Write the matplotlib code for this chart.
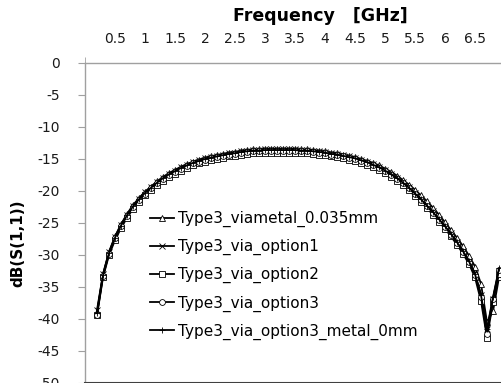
import numpy as np
import matplotlib
matplotlib.use("Agg")
import matplotlib.pyplot as plt
from matplotlib.ticker import MultipleLocator

# frequency grid [GHz]
freq = np.round(np.arange(0.2, 6.95, 0.1), 1)

s11_viametal = [-39.0, -33.0, -29.5, -27.1, -25.2, -23.6, -22.2, -21.1, -20.1, -19.3,
                -18.5, -17.8, -17.2, -16.7, -16.2, -15.8, -15.4, -15.1, -14.8, -14.6,
                -14.4, -14.2, -14.0, -13.9, -13.7, -13.6, -13.5, -13.5, -13.4, -13.4,
                -13.4, -13.4, -13.4, -13.4, -13.5, -13.5, -13.6, -13.7, -13.8, -14.0,
                -14.1, -14.3, -14.5, -14.7, -15.0, -15.3, -15.6, -16.0, -16.5, -17.0,
                -17.6, -18.3, -19.0, -19.8, -20.7, -21.6, -22.6, -23.7, -24.9, -26.1,
                -27.3, -28.6, -30.1, -31.8, -34.5, -40.5, -38.8, -33.5]
s11_option1 = [-38.6, -33.0, -29.6, -27.2, -25.3, -23.7, -22.3, -21.2, -20.2, -19.4,
               -18.6, -17.9, -17.3, -16.8, -16.3, -15.9, -15.5, -15.2, -14.9, -14.7,
               -14.5, -14.3, -14.1, -14.0, -13.8, -13.7, -13.6, -13.6, -13.5, -13.5,
               -13.5, -13.5, -13.5, -13.5, -13.6, -13.6, -13.7, -13.8, -13.9, -14.1,
               -14.2, -14.4, -14.6, -14.8, -15.1, -15.4, -15.8, -16.2, -16.7, -17.3,
               -17.9, -18.6, -19.4, -20.3, -21.2, -22.2, -23.2, -24.3, -25.4, -26.6,
               -27.9, -29.3, -30.9, -32.9, -36.2, -41.6, -36.9, -32.5]
s11_option2 = [-39.4, -33.5, -30.0, -27.7, -25.8, -24.2, -22.8, -21.7, -20.7, -19.9,
               -19.1, -18.4, -17.8, -17.3, -16.8, -16.4, -16.0, -15.7, -15.4, -15.2,
               -15.0, -14.8, -14.6, -14.5, -14.3, -14.2, -14.1, -14.1, -14.0, -14.0,
               -14.0, -14.0, -14.0, -14.0, -14.1, -14.1, -14.2, -14.3, -14.4, -14.6,
               -14.7, -14.9, -15.1, -15.3, -15.6, -15.9, -16.3, -16.7, -17.2, -17.8,
               -18.4, -19.1, -19.9, -20.8, -21.7, -22.7, -23.7, -24.8, -25.9, -27.1,
               -28.4, -29.8, -31.4, -33.5, -37.2, -42.9, -37.4, -32.9]
s11_option3 = [-39.3, -33.3, -29.8, -27.4, -25.5, -23.9, -22.5, -21.4, -20.4, -19.6,
               -18.8, -18.1, -17.5, -17.0, -16.5, -16.1, -15.7, -15.4, -15.1, -14.9,
               -14.7, -14.5, -14.3, -14.2, -14.0, -13.9, -13.8, -13.8, -13.7, -13.7,
               -13.7, -13.7, -13.7, -13.7, -13.8, -13.8, -13.9, -14.0, -14.1, -14.3,
               -14.4, -14.6, -14.8, -15.0, -15.3, -15.6, -16.0, -16.4, -16.9, -17.5,
               -18.1, -18.8, -19.6, -20.5, -21.4, -22.4, -23.4, -24.5, -25.6, -26.8,
               -28.1, -29.5, -31.1, -33.1, -36.5, -42.3, -36.8, -32.3]
s11_metal0 = [-39.1, -33.2, -29.7, -27.3, -25.4, -23.8, -22.4, -21.3, -20.3, -19.5,
              -18.7, -18.0, -17.4, -16.9, -16.4, -16.0, -15.6, -15.3, -15.0, -14.8,
              -14.6, -14.4, -14.2, -14.1, -13.9, -13.8, -13.7, -13.7, -13.6, -13.6,
              -13.6, -13.6, -13.6, -13.6, -13.7, -13.7, -13.8, -13.9, -14.0, -14.2,
              -14.3, -14.5, -14.7, -14.9, -15.2, -15.5, -15.9, -16.3, -16.8, -17.4,
              -18.0, -18.7, -19.5, -20.4, -21.3, -22.3, -23.3, -24.4, -25.5, -26.7,
              -28.0, -29.4, -31.0, -33.0, -36.3, -41.5, -36.6, -32.1]

labels = ["Type3_viametal_0.035mm", "Type3_via_option1", "Type3_via_option2",
          "Type3_via_option3", "Type3_via_option3_metal_0mm"]
markers = ["^", "x", "s", "o", "+"]
series = [s11_viametal, s11_option1, s11_option2, s11_option3, s11_metal0]

plt.rcParams['font.family'] = ['DejaVu Sans']
plt.rcParams['axes.unicode_minus'] = False

fig = plt.figure(figsize=(5.02, 3.83), dpi=100)
ax = fig.add_axes([85 / 502, 0.0, 420 / 502, 320 / 383])

for vals, lab, m in zip(series, labels, markers):
    ax.plot(freq, vals, color="black", lw=1.3, marker=m, ms=4.2,
            mfc="white" if m in "^so" else "black", mec="black", mew=0.6,
            label=lab)

ax.set_xlim(0, 7)
ax.set_ylim(-50, 0)

ax.xaxis.tick_top()
ax.xaxis.set_label_position("top")
ax.set_xticks(np.arange(0.5, 7.0, 0.5))
ax.set_xticklabels(["0.5", "1", "1.5", "2", "2.5", "3", "3.5", "4", "4.5",
                    "5", "5.5", "6", "6.5"])
ax.xaxis.set_minor_locator(MultipleLocator(1))
ax.tick_params(axis="x", which="major", length=0, pad=12.5, labelsize=10,
               labelcolor="#1a1a1a")
ax.tick_params(axis="x", which="minor", length=4, color="#a0a0a0", top=True,
               bottom=False)
ax.set_yticks(np.arange(-50, 1, 5))
ax.tick_params(axis="y", length=5, color="#a0a0a0", labelsize=10,
               labelcolor="#1a1a1a", pad=13)

for side in ["left", "top"]:
    ax.spines[side].set_color("#a0a0a0")
    ax.spines[side].set_linewidth(1.0)
ax.spines["right"].set_visible(False)
ax.spines["bottom"].set_color("#404040")
ax.spines["bottom"].set_linewidth(1.5)

fig.text(320 / 502, 1 - 16 / 383, "Frequency   [GHz]", ha="center", va="center",
         fontsize=12.5, fontweight="bold")
fig.text(18 / 502, 1 - 243 / 383, "dB(S(1,1))", ha="center", va="center",
         rotation=90, fontsize=11, fontweight="bold")

leg = ax.legend(loc="upper left", bbox_to_anchor=(65 / 420, 1 - 148 / 320),
                frameon=False, fontsize=11, handlelength=1.6, handletextpad=0.2,
                labelspacing=0.78, borderaxespad=0, borderpad=0)

fig.savefig("out.png", dpi=100)
